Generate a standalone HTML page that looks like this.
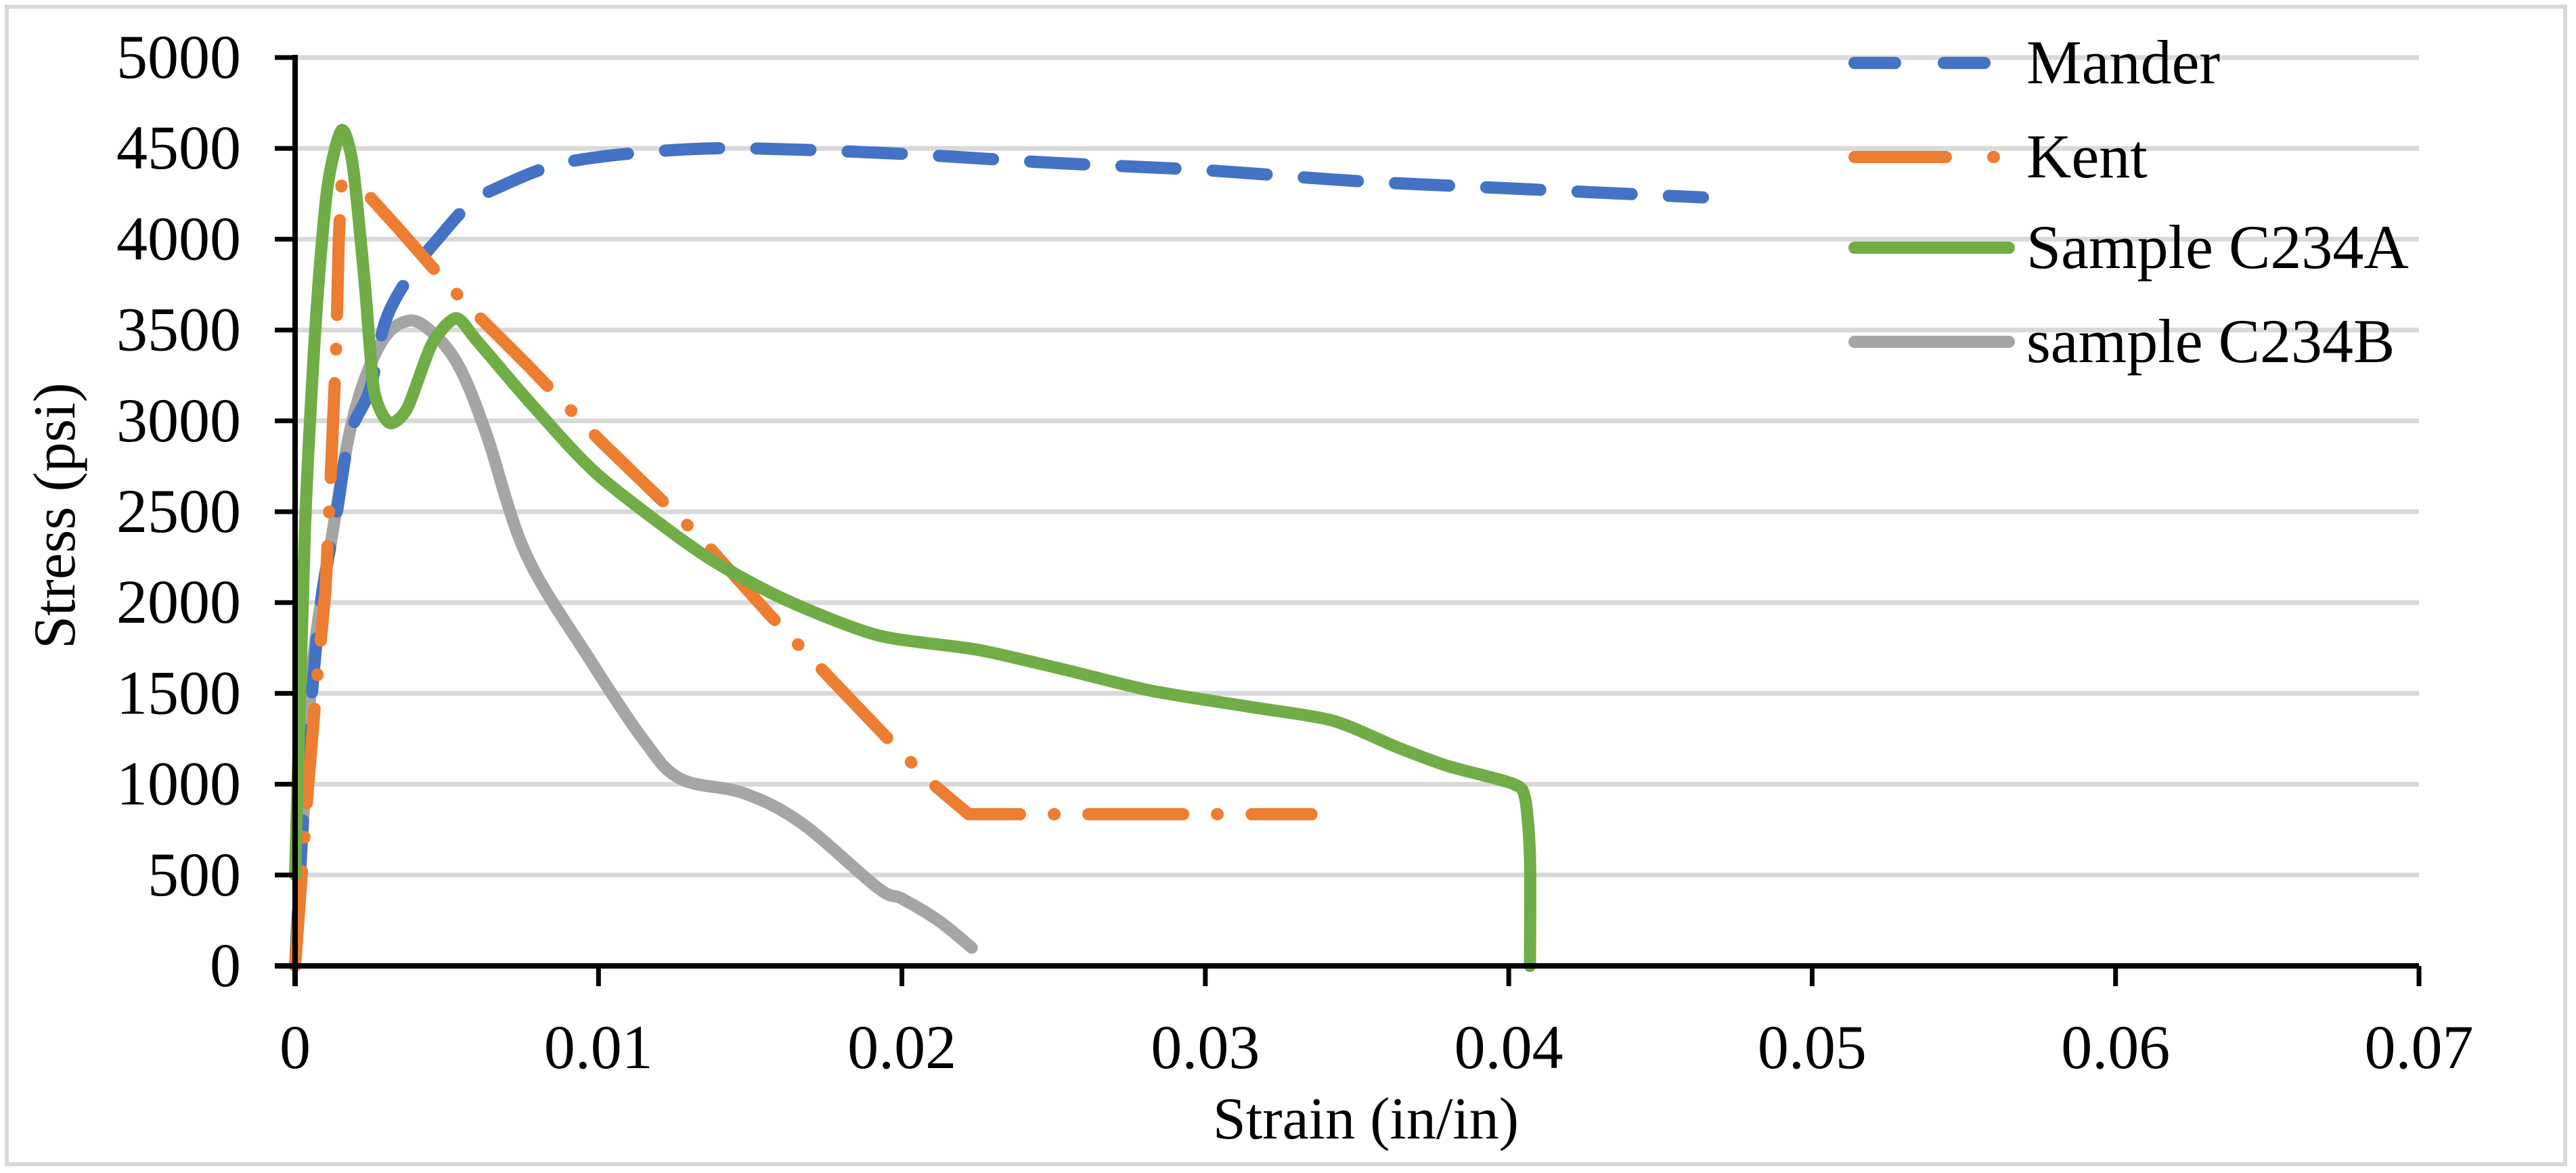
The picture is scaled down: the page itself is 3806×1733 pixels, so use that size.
<!DOCTYPE html>
<html><head><meta charset="utf-8"><style>
html,body{margin:0;padding:0;background:#fff;}
svg{display:block;}
text{font-family:"Liberation Serif","Times New Roman",serif;}
</style></head><body>
<svg id="chart" width="3806" height="1733" viewBox="0 0 3806 1733" xmlns="http://www.w3.org/2000/svg" font-family="Liberation Serif, serif">
<rect x="10" y="10" width="3780" height="1710" fill="#fff" stroke="#d9d9d9" stroke-width="6"/>
<g id="grid"></g>
<g id="series"></g>
<g id="axes"></g>
<text x="2018" y="1682" font-size="88" font-family="Liberation Serif, serif" text-anchor="middle">Strain (in/in)</text>
<text transform="translate(110,762) rotate(-90)" font-size="88" font-family="Liberation Serif, serif" text-anchor="middle">Stress (psi)</text>
<g id="legend"></g>
</svg>
<script>
const xTicks=[0,0.01,0.02,0.03,0.04,0.05,0.06,0.07];
const xTickLabels=["0","0.01","0.02","0.03","0.04","0.05","0.06","0.07"];
const yTicks=[0,500,1000,1500,2000,2500,3000,3500,4000,4500,5000];
const seriesNames=["Mander","Kent","Sample C234A","sample C234B"];
const manderX=[0,0.00033,0.0008,0.00135,0.0018,0.00246,0.003,0.0039,0.0047,0.0058,0.0069,0.0084,0.0099,0.0124,0.015,0.02,0.025,0.03,0.035,0.04,0.0464];
const manderY=[0,990,1936,2470,2920,3170,3560,3830,4000,4200,4300,4400,4450,4490,4500,4470,4420,4380,4320,4280,4230];
const kentX=[0,0.00043,0.0007,0.001,0.00116,0.00135,0.00144,0.00153,0.00237,0.0034,0.0045,0.0056,0.0077,0.01,0.0134,0.0156,0.0186,0.02,0.0211,0.0222,0.0335];
const kentY=[0,990,1530,2060,2640,3380,4000,4300,4250,4060,3850,3650,3300,2900,2350,1940,1415,1170,990,835,835];
const aX=[0,0.00033,0.0007,0.00107,0.00153,0.0019,0.0023,0.0026,0.0031,0.0037,0.0045,0.0053,0.006,0.0078,0.01,0.0134,0.0161,0.0192,0.0225,0.0255,0.0282,0.0315,0.0342,0.0363,0.038,0.0401,0.04053,0.0407,0.0407];
const aY=[500,2430,3590,4290,4600,4410,3750,3170,2990,3070,3420,3565,3440,3090,2700,2270,2020,1820,1740,1625,1515,1425,1350,1205,1100,1005,930,600,0];
const bX=[0,0.00033,0.0006,0.0012,0.0019,0.0028,0.0037,0.0045,0.0054,0.0063,0.0076,0.0097,0.0115,0.0127,0.0148,0.0167,0.0192,0.02,0.0212,0.0223];
const bY=[0,990,1690,2350,3010,3420,3550,3490,3300,2930,2270,1690,1240,1030,950,785,430,370,250,100];

const NS="http://www.w3.org/2000/svg";
const FF="Liberation Serif, serif";
const X0=436,X1=3574,Y0=1427,Y1=85;
const xs=v=>X0+v/0.07*(X1-X0);
const ys=v=>Y0-v/5000*(Y0-Y1);
function mk(tag,attrs,parent){const e=document.createElementNS(NS,tag);for(const k in attrs)e.setAttribute(k,attrs[k]);parent.appendChild(e);return e;}
const grid=document.getElementById('grid'),axes=document.getElementById('axes'),ser=document.getElementById('series'),leg=document.getElementById('legend');
yTicks.forEach(t=>{
  if(t>0){const g=mk('line',{x1:X0,x2:X1,y1:ys(t),y2:ys(t),stroke:'#d9d9d9','stroke-width':7},grid);
  
  }
  const tk=mk('line',{x1:406,x2:X0,y1:ys(t),y2:ys(t),stroke:'#000','stroke-width':7},axes);
  
  
  const lb=mk('text',{x:356,y:ys(t)+30,'font-size':92,'font-family':FF,'text-anchor':'end'},axes);lb.textContent=t;
  
  
});
xTicks.forEach((t,i)=>{
  const tk=mk('line',{x1:xs(t),x2:xs(t),y1:Y0,y2:1457,stroke:'#000','stroke-width':7},axes);
  
  
  const lb=mk('text',{x:xs(t),y:1578,'font-size':92,'font-family':FF,'text-anchor':'middle'},axes);lb.textContent=xTickLabels[i];
  
  
});
const ya=mk('line',{x1:X0,x2:X0,y1:Y1-4,y2:1457,stroke:'#000','stroke-width':8},axes);


const xa=mk('line',{x1:406,x2:X1,y1:Y0,y2:Y0,stroke:'#000','stroke-width':8},axes);



function smooth(xv,yv,k){
  const p=xv.map((x,i)=>[xs(x),ys(yv[i])]);
  let d='M'+p[0][0]+','+p[0][1];
  for(let i=0;i<p.length-1;i++){
    const a=p[i-1]||p[i],b=p[i],c=p[i+1],e=p[i+2]||c;
    const c1=[b[0]+(c[0]-a[0])*k,b[1]+(c[1]-a[1])*k],c2=[c[0]-(e[0]-b[0])*k,c[1]-(e[1]-b[1])*k];
    d+=' C'+c1[0]+','+c1[1]+' '+c2[0]+','+c2[1]+' '+c[0]+','+c[1];
  }
  return d;
}
const styles=[
 {c:'#4472c4',dash:'80 55',k:1/6},
 {c:'#ed7d31',dash:'140 50 1 50',k:0},
 {c:'#70ad47',dash:'',k:1/8},
 {c:'#a5a5a5',dash:'',k:1/6}];
const data=[[manderX,manderY],[kentX,kentY],[aX,aY],[bX,bY]];
const drawOrder=[3,0,1,2];
const names=['mander-line','kent-line','sample-c234a-line','sample-c234b-line'];
drawOrder.forEach(i=>{
  const p=mk('path',{d:smooth(data[i][0],data[i][1],styles[i].k),fill:'none',stroke:styles[i].c,'stroke-width':18,'stroke-linecap':'round','stroke-linejoin':'round'},ser);
  if(styles[i].dash)p.setAttribute('stroke-dasharray',styles[i].dash);
  
  
});
const legY=[93,232,366,505];
seriesNames.forEach((n,i)=>{
  const g=mk('g',{},leg);
  
  
  const l=mk('line',{x1:2740,x2:2968,y1:legY[i],y2:legY[i],stroke:styles[i].c,'stroke-width':18,'stroke-linecap':'round'},g);
  if(i===0)l.setAttribute('stroke-dasharray','60 72');
  if(i===1)l.setAttribute('stroke-dasharray','135 70 1 50');
  
  
  const t=mk('text',{x:2994,y:legY[i]+30,'font-size':92,'font-family':FF},g);t.textContent=n;
  
  
});
</script>
</body></html>
